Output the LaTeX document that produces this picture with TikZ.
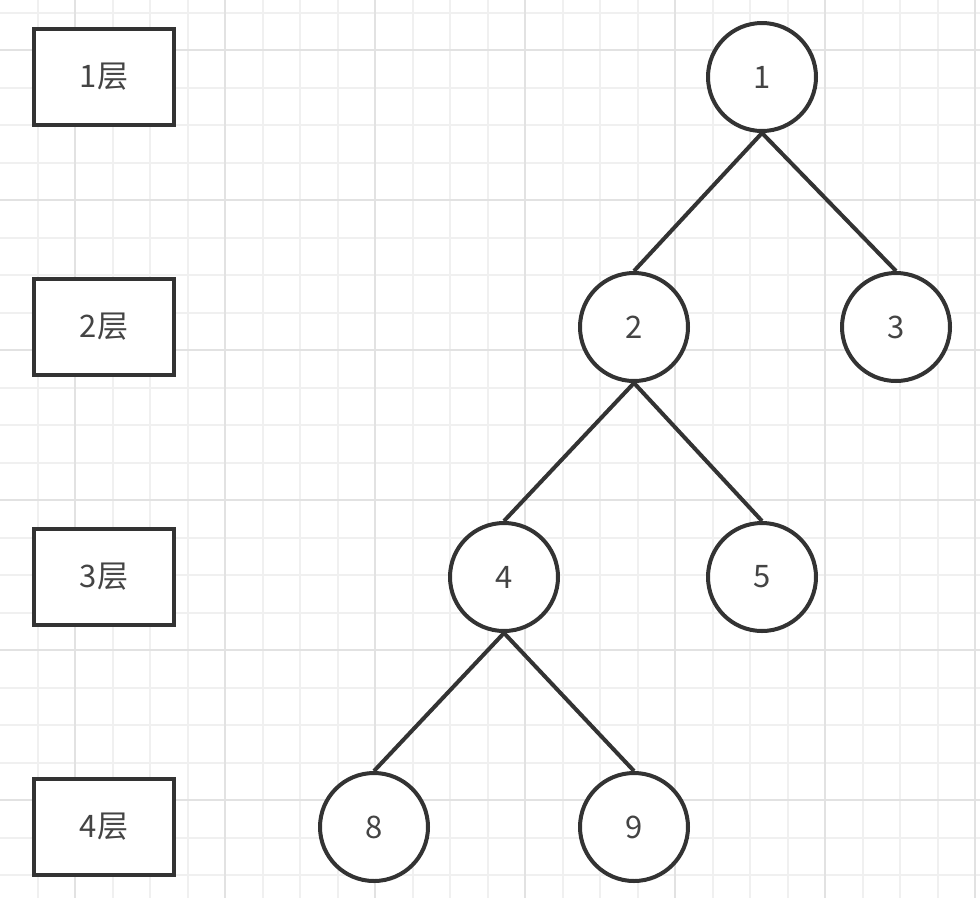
\documentclass[tikz,border=0pt]{standalone}
\usepackage{fontspec}
\setmainfont{Noto Sans CJK SC}
\definecolor{strokec}{HTML}{333333}
\definecolor{textc}{HTML}{444444}
\definecolor{gridminor}{HTML}{F0F0F0}
\definecolor{gridmajor}{HTML}{E2E2E2}
\begin{document}
\begin{tikzpicture}[x=1pt,y=-1pt,
  levelbox/.style={draw=strokec, line width=4pt, fill=white, minimum width=140pt, minimum height=96pt, inner sep=0pt, text=textc, font=\fontsize{31}{36}\selectfont},
  treenode/.style={draw=strokec, line width=4pt, fill=white, circle, minimum size=108pt, inner sep=0pt, text=textc, font=\fontsize{31}{36}\selectfont},
  edge/.style={draw=strokec, line width=4pt}]
\useasboundingbox (0,0) rectangle (980,898);
\fill[white] (0,0) rectangle (980,898);
% grid
\foreach \i in {1,...,26} {
  \draw[gridminor, line width=2pt] (37.5*\i,0) -- (37.5*\i,898);
}
\foreach \j in {0,...,23} {
  \draw[gridminor, line width=2pt] (0,12.5+37.5*\j) -- (980,12.5+37.5*\j);
}
\foreach \i in {0,...,6} {
  \draw[gridmajor, line width=2pt] (75+150*\i,0) -- (75+150*\i,898);
}
\foreach \j in {0,...,5} {
  \draw[gridmajor, line width=2pt] (0,50+150*\j) -- (980,50+150*\j);
}
% level boxes
\node[levelbox] (L1) at (104,77) {1层};
\node[levelbox] (L2) at (104,327) {2层};
\node[levelbox] (L3) at (104,577) {3层};
\node[levelbox] (L4) at (104,827) {4层};
% tree nodes
\node[treenode] (n1) at (762,77) {1};
\node[treenode] (n2) at (634,327) {2};
\node[treenode] (n3) at (896,327) {3};
\node[treenode] (n4) at (504,577) {4};
\node[treenode] (n5) at (762,577) {5};
\node[treenode] (n8) at (374,827) {8};
\node[treenode] (n9) at (634,827) {9};
% edges
\draw[edge] (n1.south) -- (n2.north);
\draw[edge] (n1.south) -- (n3.north);
\draw[edge] (n2.south) -- (n4.north);
\draw[edge] (n2.south) -- (n5.north);
\draw[edge] (n4.south) -- (n8.north);
\draw[edge] (n4.south) -- (n9.north);
\end{tikzpicture}
\end{document}
